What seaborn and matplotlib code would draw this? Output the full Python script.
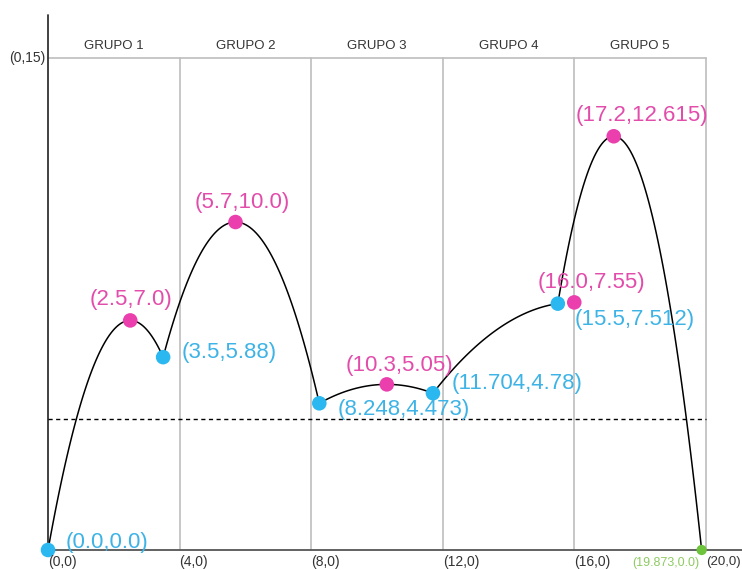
import numpy as np
import pandas as pd
import matplotlib
matplotlib.use("Agg")
import matplotlib.pyplot as plt
import seaborn as sns

# breakpoints of the piecewise curve (cyan points + green end point)
break_x = [0.0, 3.5, 8.248, 11.704, 15.5, 19.873]
break_y = [0.0, 5.88, 4.473, 4.78, 7.512, 0.0]
break_labels = ["(0.0,0.0)", "(3.5,5.88)", "(8.248,4.473)", "(11.704,4.78)", "(15.5,7.512)", "(19.873,0.0)"]

# vertices of each parabolic arc (pink points)
vertex_x = [2.5, 5.7, 10.3, 16.0, 17.2]
vertex_y = [7.0, 10.0, 5.05, 7.55, 12.615]
vertex_labels = ["(2.5,7.0)", "(5.7,10.0)", "(10.3,5.05)", "(16.0,7.55)", "(17.2,12.615)"]

groups = ["GRUPO 1", "GRUPO 2", "GRUPO 3", "GRUPO 4", "GRUPO 5"]
group_edges = [0, 4, 8, 12, 16, 20]
x_tick_labels = ["(0,0)", "(4,0)", "(8,0)", "(12,0)", "(16,0)", "(20,0)"]
y_top = 15
y_top_label = "(0,15)"
dashed_y = 4.0

CYAN = "#2BB7EF"
PINK = "#EA3FAD"
GREEN = "#6DC33B"
CYAN_TXT = "#3DB3E6"
PINK_TXT = "#E24CAB"
GREEN_TXT = "#8ECB62"

sns.set_theme(style="white")
plt.rcParams["font.family"] = ["Liberation Sans", "DejaVu Sans"]

fig = plt.figure(figsize=(7.42, 5.70), dpi=100)
ax = fig.add_axes([0, 0, 1, 1])
ax.set_xlim(-1.46, 21.1)
ax.set_ylim(-0.61, 16.77)
ax.axis("off")

# each arc is a parabola with its vertex at the pink point, passing through the breakpoints
rows = []
for i in range(len(vertex_x)):
    x0, y0 = break_x[i], break_y[i]
    vx, vy = vertex_x[i], vertex_y[i]
    a = (vy - y0) / (vx - x0) ** 2
    xs = np.linspace(break_x[i], break_x[i + 1], 80)
    for xv in xs:
        rows.append({"x": xv, "y": vy - a * (xv - vx) ** 2, "seg": i})
curve = pd.DataFrame(rows)

# grid frame
for gx in group_edges[1:]:
    ax.plot([gx, gx], [0, y_top], color="#BDBDBD", lw=1.2, zorder=1)
ax.plot([0, 20], [y_top, y_top], color="#BDBDBD", lw=1.2, zorder=1)
ax.plot([0, 0], [0, 16.3], color="#333333", lw=1.3, zorder=2)
ax.plot([0, 21.1], [0, 0], color="#555555", lw=1.3, zorder=2)
ax.plot([0, 20], [dashed_y, dashed_y], color="black", lw=1.0, ls=(0, (3, 2.5)), zorder=2)

sns.lineplot(data=curve, x="x", y="y", units="seg", estimator=None, color="black",
             lw=1.1, ax=ax, zorder=3, sort=False)

pts_b = pd.DataFrame({"x": break_x[:-1], "y": break_y[:-1]})
pts_v = pd.DataFrame({"x": vertex_x, "y": vertex_y})
sns.scatterplot(data=pts_b, x="x", y="y", color=CYAN, s=110, edgecolor="none", ax=ax, zorder=4)
sns.scatterplot(data=pts_v, x="x", y="y", color=PINK, s=110, edgecolor="none", ax=ax, zorder=4)
sns.scatterplot(x=[break_x[-1]], y=[break_y[-1]], color=GREEN, s=55, edgecolor="none", ax=ax, zorder=4)
ax.set_xlabel("")
ax.set_ylabel("")

# labels for the breakpoints (pixel offsets)
b_off = [(18, 7), (18, 5), (18, -6), (19, 10), (17, -16)]
for (bx, by, lab, off) in zip(break_x[:-1], break_y[:-1], break_labels[:-1], b_off):
    ax.annotate(lab, (bx, by), xytext=off, textcoords="offset pixels",
                ha="left", va="center", fontsize=16, color=CYAN_TXT, zorder=5)
ax.annotate(break_labels[-1], (break_x[-1], break_y[-1]), xytext=(-69, -13),
            textcoords="offset pixels", ha="left", va="center", fontsize=9,
            color=GREEN_TXT, zorder=5)

v_off = [(1, 21), (7, 20), (13, 19), (17, 20), (28, 21)]
for (vx, vy, lab, off) in zip(vertex_x, vertex_y, vertex_labels, v_off):
    ax.annotate(lab, (vx, vy), xytext=off, textcoords="offset pixels",
                ha="center", va="center", fontsize=16, color=PINK_TXT, zorder=5)

# axis labels
for gx, lab in zip(group_edges, x_tick_labels):
    ax.annotate(lab, (gx, 0), xytext=(0, -12), textcoords="offset pixels",
                ha="left", va="center", fontsize=9.5 if gx == 20 else 10,
                color="#333333", zorder=6)
ax.annotate(y_top_label, (0, y_top), xytext=(-3, 0), textcoords="offset pixels",
            ha="right", va="center", fontsize=10, color="#333333")

for i, g in enumerate(groups):
    cx = (group_edges[i] + group_edges[i + 1]) / 2
    ax.annotate(g, (cx, y_top), xytext=(0, 12), textcoords="offset pixels",
                ha="center", va="center", fontsize=9.5, color="#333333")

fig.savefig("out.png", dpi=100)
